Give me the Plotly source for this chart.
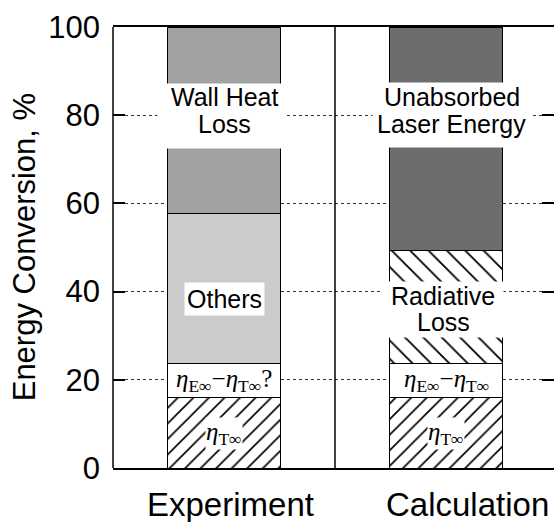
import plotly.graph_objects as go

# ---- data ----
categories = ["Experiment", "Calculation"]
eta_T = [16.0, 16.0]              # eta_T_inf (hatched /)
eta_diff = [7.6, 7.7]             # eta_E_inf - eta_T_inf (white)
others = [34.2, None]             # Others (light gray)
radiative = [None, 25.7]          # Radiative loss (hatched \)
wall_heat = [42.2, None]          # Wall heat loss (gray)
unabsorbed = [None, 50.6]         # Unabsorbed laser energy (dark gray)
y_ticks = [0, 20, 40, 60, 80, 100]

xpos = [0, 1]
bar_w = 0.505
FONT = "Liberation Sans, Arial, Helvetica, sans-serif"
SERIF = "Liberation Serif, Times New Roman, serif"
line = dict(color="black", width=1)

fig = go.Figure()
fig.add_trace(go.Bar(x=xpos, y=eta_T, width=bar_w,
                     marker=dict(color="white", line=line,
                                 pattern=dict(shape="/", fgcolor="#000000", bgcolor="white",
                                              fgopacity=1, fillmode="replace",
                                              size=11, solidity=0.15))))
fig.add_trace(go.Bar(x=xpos, y=eta_diff, width=bar_w, marker=dict(color="white", line=line)))
fig.add_trace(go.Bar(x=xpos, y=others, width=bar_w, marker=dict(color="#cbcbcb", line=line)))
fig.add_trace(go.Bar(x=xpos, y=radiative, width=bar_w,
                     marker=dict(color="white", line=line,
                                 pattern=dict(shape="\\", fgcolor="#000000", bgcolor="white",
                                              fgopacity=1, fillmode="replace",
                                              size=13, solidity=0.14))))
fig.add_trace(go.Bar(x=xpos, y=wall_heat, width=bar_w, marker=dict(color="#a2a2a2", line=line)))
fig.add_trace(go.Bar(x=xpos, y=unabsorbed, width=bar_w, marker=dict(color="#6d6d6d", line=line)))


# ---- labels ----
def box(x, y, w, h):
    # white label background
    fig.add_annotation(x=x, y=y, xref="x", yref="y", text=" ", showarrow=False,
                       width=w, height=h, bgcolor="white", borderpad=0,
                       xanchor="center", yanchor="middle")


def lab(x, y, text, size=25, font=FONT, pad=0, bg=None):
    fig.add_annotation(x=x, y=y, xref="x", yref="y", text=text, showarrow=False,
                       font=dict(family=font, size=size, color="black"),
                       bgcolor=bg, borderpad=pad, xanchor="center", yanchor="middle")


box(-0.011, 79.8, 127, 64)
lab(0, 84.2, "Wall Heat")
lab(0, 78.0, "Loss")

lab(0, 38.3, "Others", pad=2, bg="white")
lab(0, 19.8, "<i>η</i><sub>E∞</sub>−<i>η</i><sub>T∞</sub>?", size=25, font=SERIF)
lab(0, 7.8, "<i>η</i><sub>T∞</sub>", size=25, font=SERIF, bg="white")

box(1.025, 80.0, 157, 64)
lab(1.027, 84.2, "Unabsorbed")
lab(1.027, 78.0, "Laser Energy")

box(0.9865, 35.9, 120, 55)
lab(0.9865, 39.0, "Radiative")
lab(0.9865, 33.2, "Loss")

lab(1, 19.8, "<i>η</i><sub>E∞</sub>−<i>η</i><sub>T∞</sub>", size=25, font=SERIF)
lab(1, 7.8, "<i>η</i><sub>T∞</sub>", size=25, font=SERIF, bg="white")

# category labels
cat_shift = [6, 21]
for xv, name, sh in zip(xpos, categories, cat_shift):
    fig.add_annotation(x=xv, y=0, xref="x", yref="paper", text=name, showarrow=False,
                       xanchor="center", yanchor="middle", xshift=sh, yshift=-36,
                       font=dict(family=FONT, size=33, color="black"))

# y-axis title
fig.add_annotation(xref="paper", yref="paper", x=-0.2, y=0.5, text="Energy Conversion, %",
                   textangle=-90, showarrow=False, xanchor="center", yanchor="middle",
                   font=dict(family=FONT, size=31, color="black"))

# frame: left line and centre divider
fig.add_shape(type="line", xref="paper", yref="paper", x0=0, x1=0, y0=0, y1=1,
              line=dict(color="black", width=1.5))
fig.add_shape(type="line", xref="x", yref="paper", x0=0.5, x1=0.5, y0=0, y1=1,
              line=dict(color="black", width=1.5))

fig.update_layout(
    width=554, height=522,
    margin=dict(l=113, r=0, t=27, b=54, autoexpand=False),
    barmode="stack", showlegend=False,
    plot_bgcolor="white", paper_bgcolor="white",
    font=dict(family=FONT, color="black"),
    xaxis=dict(range=[-0.5, 1.4865], tickvals=xpos, showticklabels=False,
               showgrid=False, zeroline=False,
               showline=True, linecolor="black", linewidth=2, mirror=True, ticks=""),
    yaxis=dict(range=[0, 100], tickvals=y_ticks, tickfont=dict(size=31),
               showgrid=True, gridcolor="#333333", griddash="dot", gridwidth=1,
               zeroline=False, showline=False, ticks="inside", ticklen=12,
               tickwidth=1.5, tickcolor="black", mirror="ticks",
               ticklabelstandoff=12),
)

fig.write_html("out.html")
